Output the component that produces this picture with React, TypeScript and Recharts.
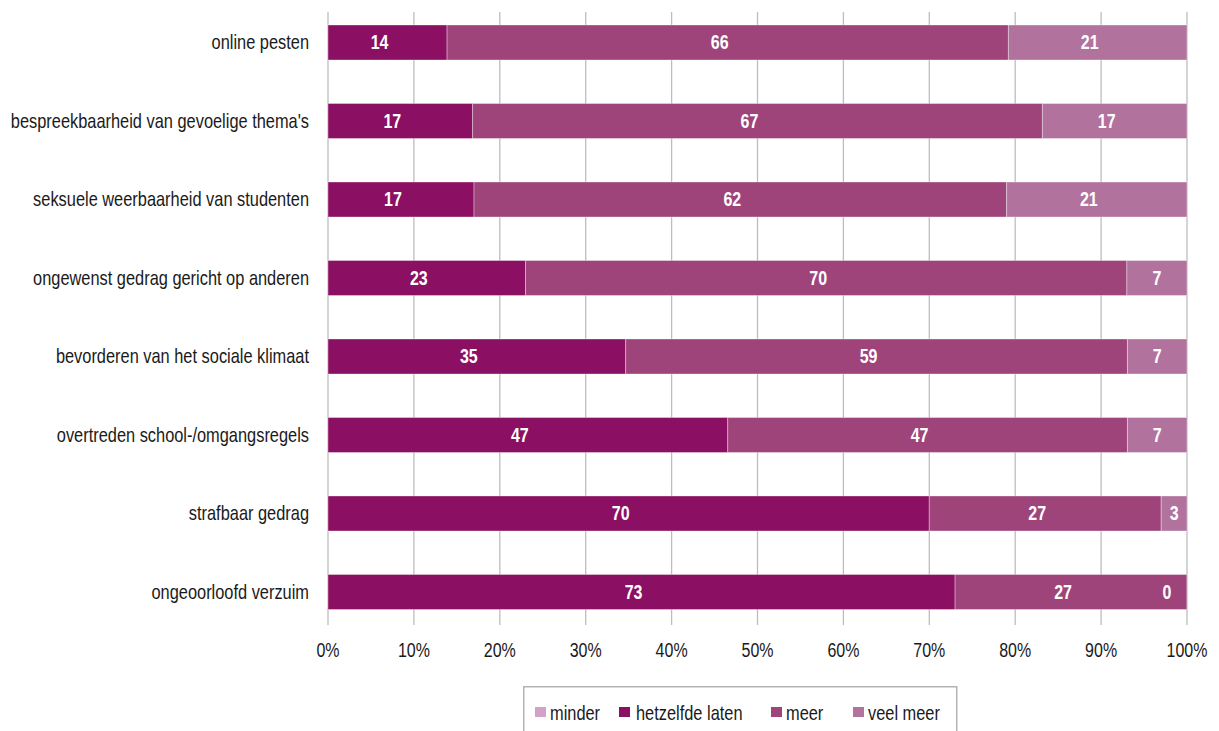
import React from "react";
import { Bar, BarChart, CartesianGrid, XAxis, YAxis } from "recharts";

const categories = [
  "online pesten",
  "bespreekbaarheid van gevoelige thema's",
  "seksuele weerbaarheid van studenten",
  "ongewenst gedrag gericht op anderen",
  "bevorderen van het sociale klimaat",
  "overtreden school-/omgangsregels",
  "strafbaar gedrag",
  "ongeoorloofd verzuim",
];

const minder = [0, 0, 0, 0, 0, 0, 0, 0];
const hetzelfde = [14, 17, 17, 23, 35, 47, 70, 73];
const meer = [66, 67, 62, 70, 59, 47, 27, 27];
const veelMeer = [21, 17, 21, 7, 7, 7, 3, 0];

const xTicks = [0, 0.1, 0.2, 0.3, 0.4, 0.5, 0.6, 0.7, 0.8, 0.9, 1];

// no Arial Narrow installed: squeeze Liberation Sans horizontally instead
const FONT = "'Liberation Sans', Arial, sans-serif";
const NARROW = 0.82;

const series = [
  { key: "minder", name: "minder", color: "#d1a2c6", values: minder, showLabels: false },
  { key: "hetzelfde", name: "hetzelfde laten", color: "#8b0f62", values: hetzelfde, showLabels: true },
  { key: "meer", name: "meer", color: "#9e447b", values: meer, showLabels: true },
  { key: "veelMeer", name: "veel meer", color: "#b2729e", values: veelMeer, showLabels: true },
];

const data = categories.map((c, i) => ({
  name: c,
  minder: minder[i],
  hetzelfde: hetzelfde[i],
  meer: meer[i],
  veelMeer: veelMeer[i],
}));

function NarrowText({ x, y, anchor, size, weight, fill, children }: any) {
  return (
    <text
      transform={`translate(${x},${y}) scale(${NARROW},1)`}
      x={0}
      y={0}
      textAnchor={anchor}
      dominantBaseline="central"
      fontFamily={FONT}
      fontSize={size}
      fontWeight={weight || "normal"}
      fill={fill}
    >
      {children}
    </text>
  );
}

function YTick(props: any) {
  const { x, y, payload } = props;
  return (
    <NarrowText x={x} y={y} anchor="end" size={20} fill="#1a1a1a">
      {payload.value}
    </NarrowText>
  );
}

function XTick(props: any) {
  const { x, y, payload } = props;
  return (
    <NarrowText x={x} y={y + 7} anchor="middle" size={19.5} fill="#1a1a1a">
      {`${Math.round(payload.value * 100)}%`}
    </NarrowText>
  );
}

function makeLabel(values: number[]) {
  return (props: any) => {
    const { x, y, width, height, index } = props;
    const v = values[index];
    // wide segments: label sits a bit left of centre, as in the original
    // zero-width segment: label sits just inside the bar end
    let cx = x + width / 2;
    if (width < 2) cx = x - 20;
    else if (width > 80) cx -= 8;
    return (
      <NarrowText key={`l-${index}`} x={cx} y={y + height / 2} anchor="middle" size={19.5} weight="bold" fill="#ffffff">
        {v}
      </NarrowText>
    );
  };
}

const legendSquares = [535, 619, 771, 853];
const legendTexts = [550, 636, 786, 868];

export default function App() {
  return (
    <div style={{ position: "absolute", left: 0, top: 0, width: 1219, height: 731, background: "#fff" }}>
      <BarChart
        width={1219}
        height={731}
        data={data}
        layout="vertical"
        stackOffset="expand"
        barSize={35}
        margin={{ top: 12, right: 32, left: 0, bottom: 66 }}
      >
        <CartesianGrid horizontal={false} stroke="#bdbdbd" strokeWidth={1.3} />
        <XAxis
          type="number"
          domain={[0, 1]}
          ticks={xTicks}
          axisLine={false}
          tickLine={false}
          tickSize={6}
          tickMargin={12}
          height={40}
          tick={<XTick />}
          interval={0}
        />
        <YAxis
          type="category"
          dataKey="name"
          width={328}
          axisLine={false}
          tickLine={false}
          tickSize={8}
          tickMargin={11}
          padding={{ top: -9, bottom: -6 }}
          tick={<YTick />}
          interval={0}
        />
        {series.map((s) => (
          <Bar
            key={s.key}
            dataKey={s.key}
            name={s.name}
            stackId="a"
            fill={s.color}
            stroke="#ffffff"
            strokeOpacity={0.35}
            strokeWidth={1}
            minPointSize={s.key === "veelMeer" ? 0.5 : 0}
            isAnimationActive={false}
            label={s.showLabels ? makeLabel(s.values) : false}
          />
        ))}
      </BarChart>
      <svg width={1219} height={731} style={{ position: "absolute", left: 0, top: 0, pointerEvents: "none" }}>
        <rect x={523.75} y={686.75} width={433} height={60} fill="none" stroke="#b3b3b3" strokeWidth={1.5} />
        {series.map((s, i) => (
          <g key={s.key}>
            <rect x={legendSquares[i]} y={707} width={11} height={10} fill={s.color} />
            <text
              transform={`translate(${legendTexts[i]},712.5) scale(${NARROW},1)`}
              dominantBaseline="central"
              fontFamily={FONT}
              fontSize={20}
              fill="#1a1a1a"
            >
              {s.name}
            </text>
          </g>
        ))}
      </svg>
    </div>
  );
}
